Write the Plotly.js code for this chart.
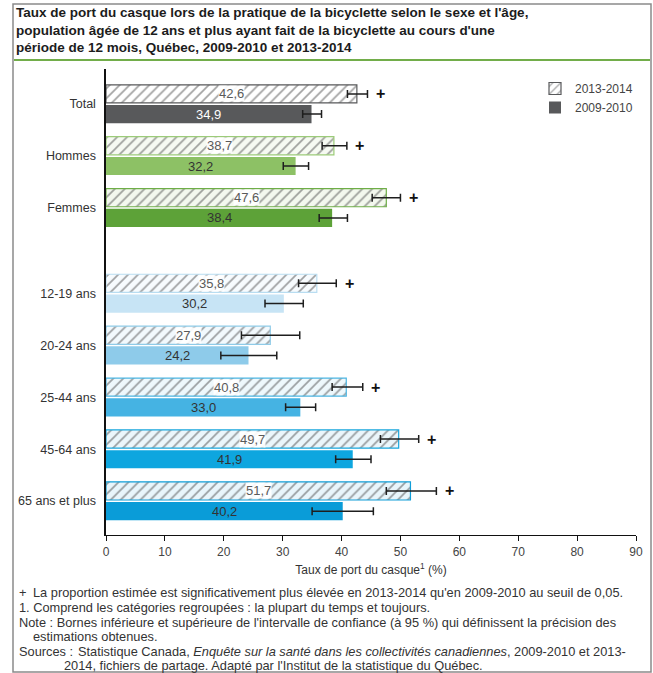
<!DOCTYPE html>
<html>
<head>
<meta charset="utf-8">
<script src="https://cdn.plot.ly/plotly-3.0.1.min.js"></script>
<style>html,body{margin:0;padding:0;background:#fff;}</style>
</head>
<body>
<div id="chart" style="width:653px;height:673px;"></div>
<script>
// ---- data ----
const categories = ['Total', 'Hommes', 'Femmes', '12-19 ans', '20-24 ans', '25-44 ans', '45-64 ans', '65 ans et plus'];
const series2013 = [42.6, 38.7, 47.6, 35.8, 27.9, 40.8, 49.7, 51.7];
const series2009 = [34.9, 32.2, 38.4, 30.2, 24.2, 33.0, 41.9, 40.2];
const low2013  = [41.0, 36.7, 45.2, 32.7, 23.0, 38.4, 46.6, 47.6];
const high2013 = [44.4, 40.9, 50.0, 39.1, 32.9, 43.6, 53.1, 56.1];
const low2009  = [33.4, 30.1, 36.2, 27.0, 19.5, 30.5, 39.0, 35.0];
const high2009 = [36.6, 34.4, 41.0, 33.5, 29.0, 35.6, 45.0, 45.4];
const significant = [true, true, true, true, false, true, true, true];
const seriesNames = ['2013-2014', '2009-2010'];
const xTicks = [0, 10, 20, 30, 40, 50, 60, 70, 80, 90];

// ---- styles ----
const solid2009 = ['#58595b', '#8dc165', '#5da238', '#c7e4f5', '#8ecbea', '#45b3e3', '#0ea6df', '#0a9cd8'];
const hatchFg   = ['#58595b', '#9ccb79', '#6fae48', '#b9ddf1', '#8fcbe8', '#4cb5e2', '#19a7dd', '#109ed8'];
const hatchBg   = ['#ffffff', '#f6faf2', '#f3f8ee', '#f7fbfe', '#f2f9fd', '#eef8fc', '#ebf6fb', '#e8f5fb'];
const label2009Color = ['#ffffff', '#333333', '#333333', '#333333', '#333333', '#333333', '#333333', '#333333'];
const FONT = '"Liberation Sans", Arial, sans-serif';

// layout geometry (pixels)
const W = 653, H = 673, L = 106, R = 636, T = 69, B = 535;
const fx = px => (px - L) / (R - L);
const fy = py => (B - py) / (B - T);

// y positions: sex groups, then a wider gap, then age groups
const pos = categories.map((c, i) => i + (i >= 3 ? 0.65 : 0));
const BAR_W = 0.35, SHIFT = 0.195, UNIT = 51.9, FIRST = 104;
const fmt = v => v.toFixed(1).replace('.', ',');

const trace2013 = {
  type: 'bar', orientation: 'h', name: seriesNames[0],
  x: series2013, y: pos, width: BAR_W, offset: -0.37,
  marker: {
    color: hatchBg,
    line: {color: hatchFg, width: 1.2},
    pattern: {shape: '/', fgcolor: hatchFg, bgcolor: hatchBg, size: 7, solidity: 0.24, fillmode: 'overlay'}
  },
  error_x: {type: 'data', symmetric: false,
    array: high2013.map((h, i) => h - series2013[i]),
    arrayminus: low2013.map((l, i) => series2013[i] - l),
    color: '#1e1e1e', thickness: 1.5, width: 4},
  hoverinfo: 'x'
};
const trace2009 = {
  type: 'bar', orientation: 'h', name: seriesNames[1],
  x: series2009, y: pos, width: BAR_W, offset: 0.02,
  marker: {color: solid2009, line: {width: 0}},
  error_x: {type: 'data', symmetric: false,
    array: high2009.map((h, i) => h - series2009[i]),
    arrayminus: low2009.map((l, i) => series2009[i] - l),
    color: '#1e1e1e', thickness: 1.5, width: 4},
  hoverinfo: 'x'
};

const annotations = [];
categories.forEach((c, i) => {
  annotations.push({x: series2013[i] / 2, y: pos[i] - SHIFT, xref: 'x', yref: 'y', text: fmt(series2013[i]),
    showarrow: false, font: {family: FONT, size: 13, color: '#5a5a5a'}, bgcolor: 'rgba(255,255,255,0.92)', borderpad: 0});
  annotations.push({x: series2009[i] / 2, y: pos[i] + SHIFT, xref: 'x', yref: 'y', text: fmt(series2009[i]),
    showarrow: false, font: {family: FONT, size: 13, color: label2009Color[i]}});
  if (significant[i]) {
    annotations.push({x: high2013[i] + 2.2, y: pos[i] - SHIFT, xref: 'x', yref: 'y', text: '<b>+</b>',
      showarrow: false, font: {family: FONT, size: 16, color: '#111'}});
  }
});

const noteFont = {family: FONT, size: 12.8, color: '#333'};
const notes = [
  [17, 592, '+'],
  [31, 592, 'La proportion estimée est significativement plus élevée en 2013-2014 qu\'en 2009-2010 au seuil de 0,05.'],
  [17, 607, '1. Comprend les catégories regroupées : la plupart du temps et toujours.'],
  [17, 622, 'Note : Bornes inférieure et supérieure de l\'intervalle de confiance (à 95 %) qui définissent la précision des'],
  [31, 636, 'estimations obtenues.'],
  [17, 651, 'Sources :'],
  [76, 651, 'Statistique Canada, <i>Enquête sur la santé dans les collectivités canadiennes</i>, 2009-2010 et 2013-'],
  [62, 665, '2014, fichiers de partage. Adapté par l\'Institut de la statistique du Québec.']
];
notes.forEach(n => annotations.push({x: fx(n[0]), y: fy(n[1]), xref: 'paper', yref: 'paper', xanchor: 'left', yanchor: 'middle',
  text: n[2], showarrow: false, font: noteFont}));

const layout = {
  width: W, height: H,
  margin: {l: L, r: W - R, t: T, b: H - B, pad: 0},
  paper_bgcolor: '#fff', plot_bgcolor: '#fff',
  barmode: 'overlay',
  font: {family: FONT, size: 12, color: '#333'},
  title: {
    text: '<b>Taux de port du casque lors de la pratique de la bicyclette selon le sexe et l\'âge,<br>population âgée de 12 ans et plus ayant fait de la bicyclette au cours d\'une<br>période de 12 mois, Québec, 2009-2010 et 2013-2014</b>',
    x: 16 / W, xanchor: 'left', xref: 'container', y: 1 - 17 / H, yanchor: 'top', yref: 'container',
    font: {family: FONT, size: 13.5, color: '#1c1c1c'}
  },
  xaxis: {
    range: [0, 90], tickvals: xTicks, ticktext: xTicks.map(String), ticks: 'outside', ticklen: 5, tickwidth: 1, tickcolor: '#111',
    showline: true, linecolor: '#111', linewidth: 1.2, showgrid: false, zeroline: false,
    tickfont: {family: FONT, size: 12, color: '#444'},
    title: {text: 'Taux de port du casque<sup>1</sup> (%)', standoff: 8, font: {family: FONT, size: 12, color: '#333'}},
    fixedrange: true
  },
  yaxis: {
    range: [(B - FIRST) / UNIT, -(FIRST - T) / UNIT],
    tickvals: pos, ticktext: categories, ticks: '', showline: true, linecolor: '#111', linewidth: 1.6,
    showgrid: false, zeroline: false, ticklabelstandoff: 6,
    tickfont: {family: FONT, size: 12.5, color: '#333'}, fixedrange: true
  },
  legend: {x: fx(535), y: fy(74), xanchor: 'left', yanchor: 'top', xref: 'paper', yref: 'paper',
    traceorder: 'normal', bgcolor: 'rgba(0,0,0,0)', itemwidth: 30,
    font: {family: FONT, size: 12, color: '#444'}},
  shapes: [
    {type: 'rect', xref: 'paper', yref: 'paper', x0: fx(13), x1: fx(651), y0: fy(672), y1: fy(4),
      line: {color: '#8a8a8a', width: 1.5}, fillcolor: 'rgba(0,0,0,0)', layer: 'below'},
    {type: 'line', xref: 'paper', yref: 'paper', x0: fx(14), x1: fx(650), y0: fy(60), y1: fy(60),
      line: {color: '#72ad4a', width: 2}}
  ],
  annotations: annotations,
  showlegend: true
};

Plotly.newPlot('chart', [trace2013, trace2009], layout, {displayModeBar: false, staticPlot: true});
</script>
</body>
</html>
